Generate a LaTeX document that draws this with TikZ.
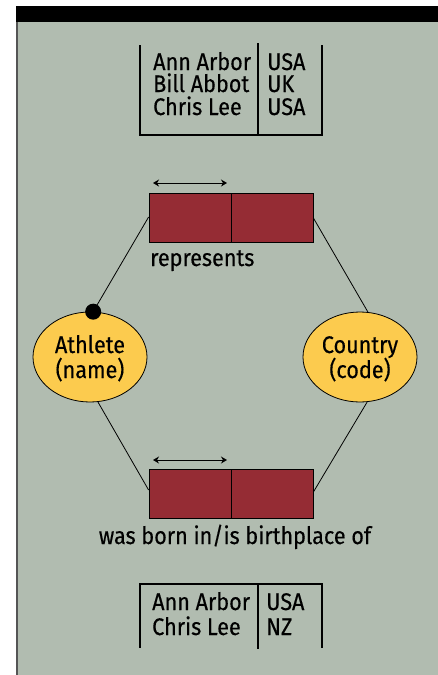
\documentclass[tikz,border=0pt]{standalone}
\usepackage{fontspec}
\setmainfont[FakeStretch=0.9,FakeBold=0.4]{Fira Sans}
\usetikzlibrary{shapes.geometric,arrows.meta}
\definecolor{bg}{HTML}{B1BCB0}
\definecolor{boxred}{HTML}{952C34}
\definecolor{ellyel}{HTML}{FCCB4E}
\definecolor{edge}{HTML}{555555}
\tikzset{
  tbl/.style={line width=2.6pt, line cap=rect},
  txt/.style={inner sep=0pt, anchor=base west, font=\fontsize{24}{27}\selectfont},
  ctxt/.style={inner sep=0pt, anchor=base, font=\fontsize{24}{27}\selectfont},
  relbox/.style={draw=black, line width=0.8pt, fill=boxred, minimum width=82pt, minimum height=49pt, inner sep=0pt},
  ent/.style={ellipse, draw=black, line width=0.8pt, fill=ellyel, minimum width=114pt, minimum height=90pt, inner sep=0pt},
  conn/.style={line width=0.8pt},
  dbl/.style={line width=1pt, {Stealth[length=6pt,width=7pt]}-{Stealth[length=6pt,width=7pt]}}
}
\begin{document}
\begin{tikzpicture}[x=1pt,y=-1pt]
\useasboundingbox (0,0) rectangle (438,675);
\fill[white] (0,0) rectangle (438,675);
\fill[bg] (17,22) rectangle (438,675);
\fill[black] (16,6) rectangle (438,22);
\draw[edge, line width=1.8pt] (16.9,22) -- (16.9,675);

% top table
\draw[tbl] (140,46) -- (140,135) -- (322,135) -- (322,46);
\draw[tbl] (258,44) -- (258,135);
\node[txt] (t1a) at (153,70) {Ann Arbor};
\node[txt] (t1b) at (153,92) {Bill Abbot};
\node[txt] (t1c) at (153,115) {Chris Lee};
\node[txt] (t1d) at (267,70) {USA};
\node[txt] (t1e) at (267,92) {UK};
\node[txt] (t1f) at (267,115) {USA};

% upper relation
\node[relbox] (r1a) at (190,217.5) {};
\node[relbox] (r1b) at (272,217.5) {};
\coordinate (a1l) at (153,183);
\coordinate (a1r) at (227,183);
\draw[dbl] (a1l) -- (a1r);
\node[txt] (rep) at (150,266) {represents};

% entities
\node[ent] (ath) at (90,357) {};
\node[ent] (cty) at (360,357) {};
\node[ctxt] (athA) at (90,353) {Athlete};
\node[ctxt] (athB) at (90,378) {(name)};
\node[ctxt] (ctyA) at (360,353) {Country};
\node[ctxt] (ctyB) at (360,378) {(code)};

% lower relation
\node[relbox] (r2a) at (190,494) {};
\node[relbox] (r2b) at (272,494) {};
\coordinate (a2l) at (153,460);
\coordinate (a2r) at (227,460);
\draw[dbl] (a2l) -- (a2r);
\node[ctxt] (born) at (235,544) {was born in/is birthplace of};

% connectors
\coordinate (p1) at (149,217);
\coordinate (p2) at (313,218);
\coordinate (p3) at (149,490);
\coordinate (p4) at (313,492);
\draw[conn] (r1a.west |- p1) -- (ath.86);
\draw[conn] (r1b.east |- p2) -- (cty.80);
\draw[conn] (ath.-80) -- (r2a.west |- p3);
\draw[conn] (cty.-81) -- (r2b.east |- p4);
\fill[black] (ath.86) circle (8);

% bottom table
\draw[tbl] (140,647) -- (140,584) -- (322,584) -- (322,647);
\draw[tbl] (258,584) -- (258,648);
\node[txt] (t2a) at (152,610) {Ann Arbor};
\node[txt] (t2b) at (152,635) {Chris Lee};
\node[txt] (t2c) at (266,610) {USA};
\node[txt] (t2d) at (266,635) {NZ};
\end{tikzpicture}
\end{document}
